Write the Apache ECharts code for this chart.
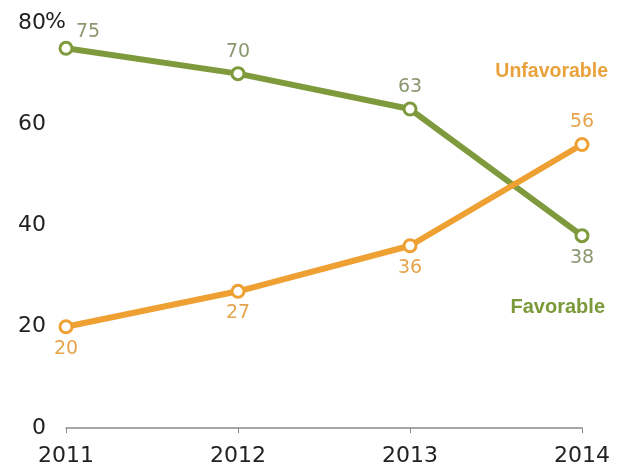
<!DOCTYPE html>
<html>
<head>
<meta charset="utf-8">
<script src="https://cdn.jsdelivr.net/npm/echarts@6/dist/echarts.min.js"></script>
<style>
  html, body { margin: 0; padding: 0; background: #fff; }
  #chart { width: 635px; height: 470px; }
</style>
</head>
<body>
<div id="chart"></div>
<script>
// Survey years and shares (%) of favorable / unfavorable views
const years = ['2011', '2012', '2013', '2014'];
const favorable = [75, 70, 63, 38];
const unfavorable = [20, 27, 36, 56];
const yTicks = [0, 20, 40, 60, 80];

const GREEN = '#7f9a3c';
const ORANGE = '#eea032';
const TICK_FONT = '"DejaVu Sans", sans-serif';
const LABEL_FONT = '"Liberation Sans", Arial, sans-serif';

const chart = echarts.init(document.getElementById('chart'));

chart.setOption({
  animation: false,
  grid: { left: 66, right: 53, top: 23, bottom: 42 },
  xAxis: {
    type: 'category',
    data: years,
    boundaryGap: false,
    axisLine: { lineStyle: { color: '#8a8a8a', width: 1.5 } },
    axisTick: { show: true, length: 5, lineStyle: { color: '#8a8a8a' } },
    axisLabel: { color: '#222', fontFamily: TICK_FONT, fontSize: 22, margin: 17 }
  },
  yAxis: {
    type: 'value',
    min: yTicks[0],
    max: yTicks[yTicks.length - 1],
    interval: 20,
    splitLine: { show: false },
    axisLine: { show: false },
    axisTick: { show: false },
    axisLabel: { color: '#222', fontFamily: TICK_FONT, fontSize: 22, margin: 20 }
  },
  series: [
    {
      name: 'Favorable',
      type: 'line',
      data: favorable.map((v, i) => ({
        value: v,
        label: i === 0 ? { position: 'top', offset: [22, 6] }
             : i === 3 ? { position: 'bottom' } : { position: 'top' }
      })),
      lineStyle: { color: GREEN, width: 6 },
      itemStyle: { color: '#fff', borderColor: GREEN, borderWidth: 3 },
      symbol: 'circle',
      symbolSize: 12,
      label: { show: true, color: '#8a9870', fontFamily: TICK_FONT, fontSize: 19, distance: 5 },
      z: 3
    },
    {
      name: 'Unfavorable',
      type: 'line',
      data: unfavorable.map((v, i) => ({
        value: v,
        label: i === 3 ? { position: 'top' } : { position: 'bottom' }
      })),
      lineStyle: { color: ORANGE, width: 6 },
      itemStyle: { color: '#fff', borderColor: ORANGE, borderWidth: 3 },
      symbol: 'circle',
      symbolSize: 12,
      label: { show: true, color: '#e6a54c', fontFamily: TICK_FONT, fontSize: 19, distance: 5 },
      z: 4
    }
  ],
  graphic: [
    // percent sign trailing the top y-axis tick
    {
      type: 'text', left: 45, top: 11,
      style: { text: '%', fill: '#222', font: '22px ' + TICK_FONT }
    },
    {
      type: 'text', right: 27, top: 62,
      style: { text: 'Unfavorable', fill: '#e9a23b', font: 'bold 19.5px ' + LABEL_FONT }
    },
    {
      type: 'text', right: 30, top: 297,
      style: { text: 'Favorable', fill: '#7a9a3a', font: 'bold 20px ' + LABEL_FONT }
    }
  ]
});
</script>
</body>
</html>
